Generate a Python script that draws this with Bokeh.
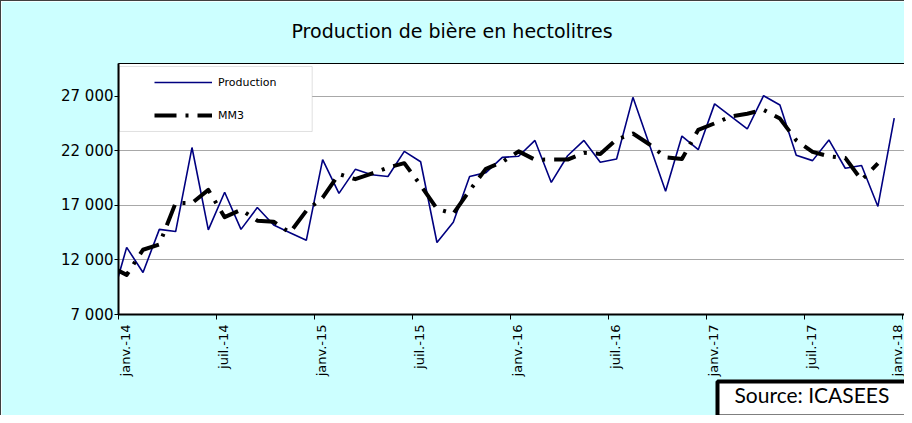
import numpy as np
from bokeh.plotting import figure
from bokeh.models import Range1d, FixedTicker, LinearAxis, Legend, LegendItem, Title, BoxAnnotation
from bokeh.embed import file_html
from bokeh.resources import INLINE

# ---- data (monthly, first value = Dec 2013, plotted at mid-month) ----
production = [7900, 13150, 10850, 14800, 14600, 22300, 14750, 18200, 14800, 16800,
              15200, 14500, 13800, 21200, 18100, 20300, 19800, 19650, 21950, 21000,
              13600, 15450, 19650, 20000, 21400, 21500, 22950, 19100, 21550, 22950,
              20950, 21250, 26900, 22600, 18300, 23350, 22100, 26300, 25150, 24000,
              27050, 26200, 21600, 21100, 23000, 20400, 20650, 16900, 25000]
mm3 = [11400, 10633, 12933, 13417, 17233, 17217, 18417, 15917, 16600, 15600,
       15500, 14500, 16500, 17700, 19867, 19400, 19917, 20467, 20867, 18850,
       16683, 16233, 18367, 20350, 20967, 21950, 21183, 21200, 21200, 21817,
       21717, 23033, 23583, 22600, 21417, 21250, 23917, 24517, 25150, 25400,
       25750, 24950, 22967, 21900, 21500, 21350, 19317, 20850]
x_tick_labels = ["janv.-14", "juil.-14", "janv.-15", "juil.-15", "janv.-16",
                 "juil.-16", "janv.-17", "juil.-17", "janv.-18"]
y_ticks = [7000, 12000, 17000, 22000, 27000]
y_tick_labels = ["7 000", "12 000", "17 000", "22 000", "27 000"]
series_names = ["Production", "MM3"]
title_text = "Production  de bière en hectolitres"
source_text = "Source: ICASEES"

X_END = 48.19
# month index: Jan 2014 = 0 ; points at mid-month
x_prod = np.arange(len(production)) - 1 + 0.5
x_mm3 = np.arange(len(mm3)) - 1 + 0.5
x_ticks = [6 * i for i in range(len(x_tick_labels))]
label_shift = 0.45
# labels drawn a little right of their tick (last one kept inside the range, it is cut at the edge)
x_label_ticks = [min(t + label_shift, X_END - 0.08) for t in x_ticks]

FONT = "DejaVu Sans"

p = figure(width=904, height=415, output_backend="svg", toolbar_location=None,
           x_range=Range1d(0, X_END), y_range=Range1d(7000, 30000),
           min_border_left=117, min_border_right=0, min_border_top=62, min_border_bottom=102,
           border_fill_color="#CCFFFF", background_fill_color="white")
p.styles = {"border-left": "1px solid #404040", "border-top": "1px solid #404040"}
p.outline_line_color = "black"
p.outline_line_width = 1

# default bottom axis: tick marks only (its own labels are not drawn)
xa = p.below[0]
xa.ticker = FixedTicker(ticks=x_ticks)
xa.major_tick_out = 5
xa.major_tick_in = 0
xa.minor_tick_line_color = None
xa.axis_line_width = 2
xa.axis_line_color = "black"
xa.major_tick_line_color = "black"
xa.major_label_text_font_size = "0px"
xa.major_label_text_color = None
xa.major_label_standoff = 0

# title (outermost), with an invisible spacer axis between it and the plot area
p.title.text = title_text
p.title.align = "left"
p.title.offset = 173
p.title.standoff = 0
p.title.text_font = FONT
p.title.text_font_size = "19px"
p.title.text_font_style = "normal"
p.title.text_color = "black"

spacer = LinearAxis(ticker=FixedTicker(ticks=x_ticks), major_tick_out=22, major_tick_in=0,
                    minor_tick_out=0, minor_tick_in=0, major_label_standoff=0,
                    major_tick_line_color=None, minor_tick_line_color=None,
                    axis_line_color=None, major_label_text_color=None,
                    major_label_text_font_size="0px")
p.add_layout(spacer, "above")

# x axis labels (slightly right of ticks like the original)
lab = LinearAxis(ticker=FixedTicker(ticks=x_label_ticks),
                 major_label_overrides={t: s for t, s in zip(x_label_ticks, x_tick_labels)},
                 major_label_orientation=np.pi / 2,
                 major_tick_out=0, major_tick_in=0, minor_tick_out=0, minor_tick_in=0,
                 major_tick_line_color=None, minor_tick_line_color=None,
                 axis_line_color=None, major_label_standoff=5,
                 major_label_text_font=FONT, major_label_text_font_size="13px",
                 major_label_text_color="black")
p.add_layout(lab, "below")

ya = p.left[0]
ya.ticker = FixedTicker(ticks=y_ticks)
ya.major_label_overrides = {t: s for t, s in zip(y_ticks, y_tick_labels)}
ya.major_tick_out = 4
ya.major_tick_in = 0
ya.minor_tick_line_color = None
ya.axis_line_width = 2
ya.axis_line_color = "black"
ya.major_label_standoff = 1
ya.major_label_text_font = FONT
ya.major_label_text_font_size = "15px"
ya.major_label_text_color = "black"

p.xgrid.visible = False
p.ygrid.grid_line_color = "#A8A8A8"
p.ygrid.grid_line_width = 1

# legend box
p.add_layout(BoxAnnotation(left=0.06, right=11.86, bottom=23769, top=29725,
                           fill_color="white", fill_alpha=1,
                           line_color="#9A9A9A", line_width=1, level="underlay"))

r_prod = p.line(x_prod, production, line_color="#000080", line_width=1.6)
r_mm3 = p.line(x_mm3, mm3, line_color="black", line_width=4,
               line_dash="22 9 3 9", line_join="round")

legend = Legend(items=[LegendItem(label=series_names[0], renderers=[r_prod]),
                       LegendItem(label=series_names[1], renderers=[r_mm3])],
                location=(36, 189), padding=0, margin=0, spacing=13,
                glyph_width=58, glyph_height=20, label_height=20, label_standoff=6,
                label_text_font=FONT, label_text_font_size="11px", label_text_color="black",
                background_fill_alpha=0, border_line_alpha=0)
p.add_layout(legend)

src = Title(text=source_text, align="left", offset=599, standoff=0,
            text_font="Lato", text_font_size="21px", text_font_style="normal",
            text_color="black", background_fill_color="white",
            border_line_color="black", border_line_width=4,
            padding=dict(left=17, right=60, top=0, bottom=10))
p.add_layout(src, "below")

open("out.html", "w").write(file_html(p, INLINE))
